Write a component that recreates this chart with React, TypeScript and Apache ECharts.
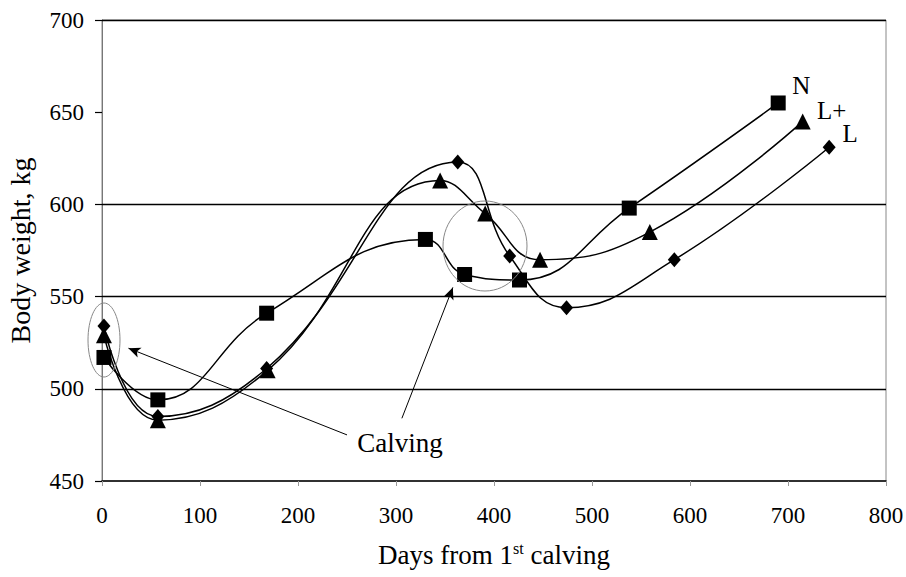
import React, { useEffect, useRef } from "react";
import * as echarts from "echarts";

const daysN = [2, 57, 168, 330, 370, 426, 538, 690];
const weightN = [517, 494, 541, 581, 562, 559, 598, 655];

const daysLP = [2, 57, 169, 345, 391, 447, 559, 715];
const weightLP = [529, 483, 510, 613, 595, 570, 585, 645];

const daysL = [2, 57, 168, 363, 416, 474, 584, 742];
const weightL = [534, 485, 511, 623, 572, 544, 570, 631];

const xTicks = [0, 100, 200, 300, 400, 500, 600, 700, 800];
const yTicks = [450, 500, 550, 600, 650, 700];
const gridValues = [500, 550, 600, 700];

const seriesNames = ["N", "L+", "L"];

const FONT = "'Liberation Serif', 'Times New Roman', serif";

function pairs(xs: number[], ys: number[], name: string, offset: number[]) {
  return xs.map((x, i) => {
    const item: any = { value: [x, ys[i]] };
    if (i === xs.length - 1) {
      item.label = {
        show: true,
        position: "inside",
        offset,
        formatter: name,
        color: "#000",
        fontFamily: FONT,
        fontSize: 25,
      };
    }
    return item;
  });
}

export default function App() {
  const ref = useRef<HTMLDivElement>(null);

  useEffect(() => {
    if (!ref.current) return;
    const chart = echarts.init(ref.current, undefined, { renderer: "svg" });
    const lineStyle = { color: "#000", width: 1.5 };
    const option: any = {
      animation: false,
      backgroundColor: "#fff",
      grid: {
        left: 102,
        right: 20,
        top: 20,
        bottom: 96,
        show: true,
        borderColor: "#888",
        borderWidth: 1,
        containLabel: false,
        outerBoundsMode: "none",
      },
      xAxis: {
        type: "value",
        min: 0,
        max: 800,
        interval: 100,
        name: "{a|Days from 1}{s|st}{a| calving}",
        nameLocation: "middle",
        nameGap: 59,
        nameTextStyle: {
          rich: {
            a: { fontFamily: FONT, fontSize: 27, color: "#000", verticalAlign: "bottom" },
            s: { fontFamily: FONT, fontSize: 16, color: "#000", verticalAlign: "top", padding: [0, 0, 12, 0] },
          },
        },
        axisLine: { show: true, lineStyle: { color: "#000", width: 1.5 } },
        axisTick: { show: true, length: 5, lineStyle: { color: "#999" } },
        axisLabel: {
          margin: 23,
          color: "#000",
          fontFamily: FONT,
          fontSize: 23,
          formatter: (v: number) => (xTicks.includes(v) ? String(v) : ""),
        },
        splitLine: { show: false },
      },
      yAxis: {
        type: "value",
        min: 450,
        max: 700,
        interval: 50,
        name: "Body weight, kg",
        nameLocation: "middle",
        nameGap: 68,
        nameTextStyle: { fontFamily: FONT, fontSize: 28, color: "#000" },
        axisLine: { show: true, lineStyle: { color: "#777", width: 1 } },
        axisTick: { show: true, length: 7, lineStyle: { color: "#000", width: 1.2 } },
        axisLabel: {
          margin: 18,
          color: "#000",
          fontFamily: FONT,
          fontSize: 23,
          formatter: (v: number) => (yTicks.includes(v) ? String(v) : ""),
        },
        splitLine: { show: false },
      },
      series: [
        {
          name: "grid",
          type: "line",
          data: [],
          silent: true,
          markLine: {
            silent: true,
            symbol: ["none", "none"],
            label: { show: false },
            lineStyle: { color: "#000", width: 1.3, type: "solid" },
            data: gridValues.map((v) => ({ yAxis: v })),
          },
        },
        {
          name: "arrows",
          type: "line",
          data: [],
          silent: true,
          markLine: {
            silent: true,
            symbol: ["none", "arrow"],
            symbolSize: [8, 12],
            label: { show: false },
            lineStyle: { color: "#000", width: 1, type: "solid" },
            data: [
              [{ coord: [250, 475] }, { coord: [27, 522] }],
              [{ coord: [306, 484] }, { coord: [358, 555] }],
            ],
          },
        },
        {
          name: seriesNames[0],
          type: "line",
          smooth: 0.45,
          data: pairs(daysN, weightN, seriesNames[0], [23, -17]),
          symbol: "rect",
          symbolSize: 15,
          itemStyle: { color: "#000" },
          lineStyle,
          z: 5,
        },
        {
          name: seriesNames[1],
          type: "line",
          smooth: 0.45,
          data: pairs(daysLP, weightLP, seriesNames[1], [29, -11]),
          symbol: "triangle",
          symbolSize: 16,
          itemStyle: { color: "#000" },
          lineStyle,
          z: 5,
        },
        {
          name: seriesNames[2],
          type: "line",
          smooth: 0.45,
          data: pairs(daysL, weightL, seriesNames[2], [21, -14]),
          symbol: "diamond",
          symbolSize: [13, 15],
          itemStyle: { color: "#000" },
          lineStyle,
          z: 5,
        },
      ],
      graphic: [
        {
          type: "ellipse",
          shape: { cx: 104, cy: 340, rx: 16, ry: 37 },
          style: { fill: "none", stroke: "#888", lineWidth: 1 },
          z: 10,
        },
        {
          type: "ellipse",
          shape: { cx: 485, cy: 246, rx: 42, ry: 45 },
          style: { fill: "none", stroke: "#888", lineWidth: 1 },
          z: 10,
        },
        {
          type: "text",
          x: 400,
          y: 443,
          style: {
            text: "Calving",
            fontFamily: FONT,
            fontSize: 27,
            fill: "#000",
            align: "center",
            verticalAlign: "middle",
          },
          z: 10,
        },
      ],
    };
    chart.setOption(option);
    return () => chart.dispose();
  }, []);

  return (
    <div
      ref={ref}
      style={{ position: "fixed", left: 0, top: 0, width: 906, height: 577, background: "#fff" }}
    />
  );
}
